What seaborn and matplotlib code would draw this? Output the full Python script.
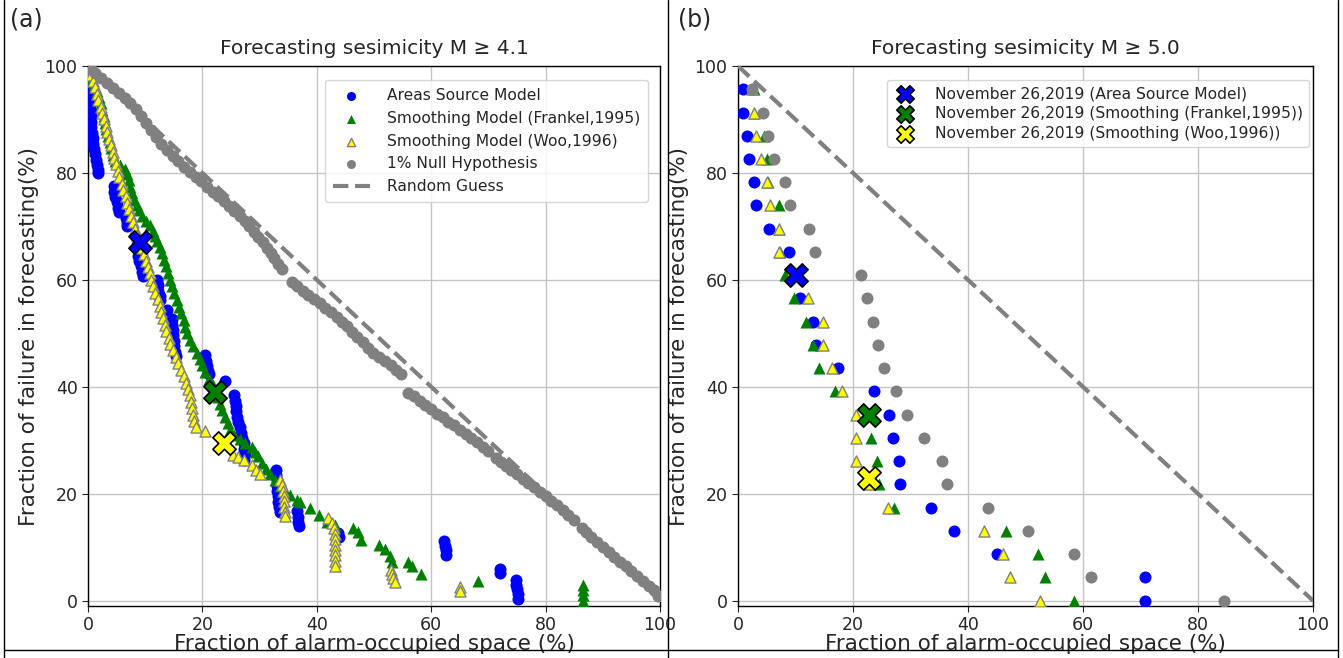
import matplotlib
matplotlib.use("Agg")
import matplotlib.pyplot as plt
from matplotlib.lines import Line2D
import seaborn as sns
import pandas as pd

# ---------------- Panel (a) data : M >= 4.1 ----------------
area_a_x = [0.3, 0.3, 0.35, 0.4, 0.45, 0.5, 0.55, 0.6, 0.7, 0.8, 0.9, 1.0, 1.2, 1.4, 1.6, 1.7, 1.8,
            4.5, 4.6, 4.8, 5.0, 5.2, 5.5, 6.6, 6.8, 6.9,
            8.6, 8.7, 8.8, 9.0, 9.2, 9.4, 9.7,
            12.0, 12.2, 12.3, 12.5, 12.6, 13.8,
            14.6, 14.7, 14.8, 14.9, 15.0, 15.1, 15.2, 15.3,
            20.5, 20.6, 20.8, 21.0, 21.2, 24.0,
            25.6, 25.7, 25.8, 25.9, 26.0, 26.2, 26.5, 26.8, 27.0, 27.2, 27.3, 27.4, 27.3,
            32.9, 32.9, 33.0, 33.0, 33.1, 33.2, 33.3, 33.4, 33.6,
            36.6, 36.7, 36.8, 36.9, 43.7, 43.8,
            62.3, 62.4, 62.5, 62.6, 72.0, 72.0,
            74.8, 74.9, 75.0, 75.1, 75.2]
area_a_y = [95.5, 94.5, 93.5, 92.5, 91.5, 90.5, 89.5, 88.5, 87.5, 86.5, 85.5, 84.5, 83.5, 82.5, 81.5, 80.5, 80.0,
            77.5, 76.5, 75.5, 74.5, 73.5, 72.7, 71.6, 70.6, 70.0,
            66.5, 65.5, 64.5, 63.5, 62.5, 61.5, 60.7,
            60.0, 59.0, 58.0, 57.0, 56.3, 54.4,
            52.6, 51.6, 50.6, 49.6, 48.6, 47.6, 46.6, 45.7,
            45.9, 44.9, 43.9, 42.9, 42.3, 41.0,
            38.4, 37.4, 36.4, 35.4, 34.4, 33.4, 32.4, 31.4, 30.4, 29.4, 28.4, 27.4, 26.4,
            24.5, 23.5, 22.5, 21.5, 20.5, 19.5, 18.5, 17.5, 16.5,
            16.7, 15.7, 14.7, 13.9, 12.6, 11.9,
            11.2, 10.3, 9.4, 8.5, 6.0, 5.2,
            3.9, 3.0, 2.1, 1.2, 0.3]

frankel_a_x = [0.3, 0.7, 1.1, 1.5, 1.9, 2.2, 2.5, 2.8, 3.0, 3.2, 3.5, 3.8, 4.1, 4.4, 4.8, 5.6, 6.4,
               6.8, 7.1, 7.4, 7.7, 8.0, 8.5, 9.0, 9.5, 10.2, 10.8, 11.3, 11.7, 12.1, 12.6, 13.0,
               13.3, 13.6, 14.0, 14.3, 14.6, 15.0, 15.5, 15.9, 16.3, 16.7, 17.0, 17.3, 17.8, 18.4,
               19.0, 19.5, 20.0, 20.5, 21.2, 21.8, 22.4, 22.8, 23.1, 23.5, 24.0, 24.4, 24.8, 25.6,
               26.6, 27.5, 28.6, 29.2, 29.8, 30.5, 31.2, 31.8, 32.7, 33.6, 34.5, 35.3, 36.5, 37.1,
               38.8, 40.3, 41.7, 43.2, 46.4, 47.2, 47.8, 50.8, 51.9, 52.8, 53.1, 56.0, 56.6, 58.3,
               68.2, 86.6, 86.6, 86.6, 86.6]
frankel_a_y = [99.0, 97.8, 96.6, 95.4, 94.2, 93.0, 91.8, 90.6, 89.4, 88.2, 87.0, 85.8, 84.6, 83.4, 82.2, 81.5, 80.8,
               79.8, 78.6, 77.4, 76.2, 75.0, 74.0, 73.0, 72.0, 71.0, 70.2, 69.2, 68.2, 67.2, 66.2, 65.0,
               63.8, 62.6, 61.3, 60.0, 58.8, 57.6, 56.3, 55.0, 53.8, 52.5, 51.2, 50.0, 48.8, 47.6,
               46.4, 45.2, 44.0, 42.8, 41.5, 40.3, 39.1, 38.0, 36.8, 35.6, 34.4, 33.2, 32.0, 31.0,
               30.2, 29.4, 28.8, 27.8, 27.0, 25.8, 24.6, 23.6, 22.5, 21.4, 20.6, 19.8, 18.9, 18.4,
               17.3, 16.1, 14.8, 14.2, 13.6, 12.8, 11.4, 10.5, 9.6, 8.4, 7.3, 7.3, 6.4, 4.9,
               3.6, 3.0, 2.0, 1.0, 0.0]

woo_a_x = [0.2, 0.5, 0.8, 1.2, 1.5, 1.8, 2.2, 2.5, 2.8, 3.1, 3.4, 3.7, 4.0, 4.3, 4.6, 4.9, 5.2, 5.5,
           5.9, 6.2, 6.6, 6.9, 7.2, 7.6, 7.9, 8.3, 8.6, 9.0, 9.4, 9.8, 10.2, 10.5, 10.8, 11.1, 11.4,
           11.8, 12.2, 12.5, 12.8, 13.1, 13.4, 13.7, 14.1, 14.4, 14.8, 15.3, 15.8, 16.2, 16.7, 17.1,
           17.5, 17.8, 18.0, 18.2, 18.4, 18.6, 18.8, 20.5,
           25.4, 26.2, 27.2, 28.6, 29.4, 30.1, 33.6, 34.0, 34.1, 34.2, 34.3, 34.3, 34.4, 34.4,
           42.0, 42.6, 43.0, 43.2, 43.2, 43.2, 43.2, 43.2, 43.2, 43.2,
           53.0, 53.2, 53.4, 53.6, 65.0, 65.0]
woo_a_y = [99.6, 98.4, 97.2, 96.0, 94.8, 93.6, 92.4, 91.2, 90.0, 88.8, 87.6, 86.4, 85.2, 84.0, 82.8, 81.6, 80.4, 79.2,
           78.0, 76.8, 75.6, 74.4, 73.2, 72.0, 70.8, 69.6, 68.4, 67.2, 66.0, 64.8, 63.6, 62.4, 61.2, 60.0, 58.8,
           57.6, 56.4, 55.2, 54.0, 52.8, 51.6, 50.4, 49.2, 48.0, 46.8, 45.6, 44.4, 43.2, 42.0, 40.8,
           39.6, 38.4, 37.2, 36.0, 34.8, 33.6, 32.4, 31.8,
           27.3, 26.9, 26.4, 25.4, 24.5, 23.6, 22.6, 21.6, 20.6, 19.6, 18.6, 17.6, 16.6, 15.8,
           15.5, 14.5, 13.5, 12.5, 11.5, 10.5, 9.5, 8.5, 7.5, 6.5,
           5.8, 5.0, 4.2, 3.4, 2.6, 1.8]

null_a_x = [0.5, 1.2, 2.2, 3.3, 4.3, 5.4, 6.4, 7.4, 8.4, 9.3, 10.2, 11.0, 11.9, 12.8, 13.8, 14.8, 15.8,
            16.8, 17.8, 18.8, 19.8, 20.8, 21.8, 22.8, 23.8, 24.7, 25.6, 26.5, 27.4, 28.2, 29.0, 29.8,
            30.6, 31.3, 32.0, 32.6, 33.2, 33.9, 35.6, 36.5, 37.5, 38.5, 39.5, 40.5, 41.5, 42.5, 43.5,
            44.4, 45.3, 46.2, 47.1, 48.0, 48.9, 49.9, 50.9, 51.9, 52.9, 53.9, 54.8, 56.0, 57.0, 58.0,
            59.0, 60.0, 61.0, 62.0, 63.0, 64.0, 65.0, 66.0, 67.0, 68.0, 69.0, 70.0, 71.4, 72.2, 73.0,
            74.0, 75.0, 76.0, 77.0, 78.0, 79.0, 80.0, 81.0, 82.0, 83.0, 84.0, 85.0, 86.4, 87.0, 88.0,
            89.0, 90.0, 91.0, 92.0, 93.0, 94.0, 95.0, 96.0, 97.0, 98.0, 99.0, 99.7]
null_a_y = [99.5, 98.6, 97.8, 96.8, 95.9, 94.9, 94.0, 93.0, 91.9, 90.6, 89.3, 88.0, 86.7, 85.5, 84.3, 83.2, 82.2,
            81.2, 80.2, 79.3, 78.4, 77.4, 76.5, 75.6, 74.7, 73.8, 72.9, 72.0, 71.0, 70.0, 69.0, 68.0,
            67.0, 66.0, 65.0, 64.0, 63.0, 62.0, 59.6, 58.8, 58.0, 57.2, 56.4, 55.6, 54.8, 54.0, 53.1,
            52.2, 51.3, 50.3, 49.3, 48.3, 47.3, 46.4, 45.6, 44.8, 44.0, 43.2, 42.3, 38.9, 38.2, 37.4,
            36.6, 35.8, 35.0, 34.3, 33.5, 32.8, 32.0, 31.2, 30.4, 29.6, 28.7, 27.9, 26.6, 25.9, 25.2,
            24.5, 23.6, 22.8, 22.0, 21.2, 20.4, 19.6, 18.7, 17.8, 16.9, 16.0, 15.0, 13.6, 12.9, 11.9,
            11.0, 10.0, 9.1, 8.2, 7.3, 6.4, 5.5, 4.6, 3.7, 2.8, 1.9, 0.9]

event_a_x = [9.1, 22.2, 23.7]
event_a_y = [67.0, 39.1, 29.5]

# ---------------- Panel (b) data : M >= 5.0 ----------------
levels_b = [95.65, 91.30, 86.96, 82.61, 78.26, 73.91, 69.57, 65.22, 60.87, 56.52, 52.17, 47.83,
            43.48, 39.13, 34.78, 30.43, 26.09, 21.74, 17.39, 13.04, 8.70, 4.35, 0.0]
area_b_x = [0.9, 0.9, 1.6, 1.9, 2.7, 3.1, 5.4, 8.9, 10.1, 10.8, 13.0, 13.6,
            17.4, 23.7, 26.3, 27.0, 28.0, 28.2, 33.6, 37.6, 45.0, 70.8, 70.8]
frankel_b_x = [2.7, 2.7, 4.6, 5.1, 5.2, 7.1, 7.2, 7.3, 8.2, 9.7, 11.9, 13.0,
               14.1, 16.9, 22.8, 23.2, 24.1, 24.5, 27.1, 46.6, 52.2, 53.4, 58.5]
woo_b_x = [2.4, 2.7, 3.1, 4.0, 5.1, 5.5, 7.2, 7.2, 10.8, 12.2, 14.7, 14.7,
           16.4, 18.1, 20.5, 20.5, 20.5, 22.8, 26.0, 42.7, 46.1, 47.3, 52.5]
null_b_x = [2.4, 4.4, 5.3, 6.3, 8.1, 9.0, 12.3, 13.4, 21.4, 22.4, 23.4, 24.4,
            25.4, 27.4, 29.4, 32.4, 35.4, 36.4, 43.4, 50.4, 58.4, 61.4, 84.6]
event_b_x = [10.1, 22.8, 22.8]
event_b_y = [60.87, 34.78, 23.0]

guess_x = [0, 100]
guess_y = [100, 0]

ticks = [0, 20, 40, 60, 80, 100]
event_labels_b = ["November 26,2019 (Area Source Model)",
                  "November 26,2019 (Smoothing (Frankel,1995))",
                  "November 26,2019 (Smoothing (Woo,1996))"]
event_colors = ["blue", "green", "yellow"]

# ---------------- Plot ----------------
sns.set_style("ticks")
plt.rcParams['font.family'] = ['DejaVu Sans']

fig = plt.figure(figsize=(13.43, 6.58), dpi=100)
axa = fig.add_axes([88 / 1343, 1 - 606 / 658, 572 / 1343, 540 / 658])
axb = fig.add_axes([738 / 1343, 1 - 606 / 658, 575 / 1343, 540 / 658])

S = 75

# Panel (a)
sns.scatterplot(x=area_a_x, y=area_a_y, ax=axa, color="blue", marker="o", s=S,
                linewidth=0, label="Areas Source Model", zorder=3)
sns.scatterplot(x=frankel_a_x, y=frankel_a_y, ax=axa, color="green", marker="^", s=S,
                linewidth=0, label="Smoothing Model (Frankel,1995)", zorder=3)
sns.scatterplot(x=woo_a_x, y=woo_a_y, ax=axa, color="yellow", marker="^", s=S * 0.85,
                edgecolor="gray", linewidth=1, label="Smoothing Model (Woo,1996)", zorder=3)
sns.scatterplot(x=null_a_x, y=null_a_y, ax=axa, color="gray", marker="o", s=S,
                linewidth=0, label="1% Null Hypothesis", zorder=3)
sns.lineplot(x=guess_x, y=guess_y, ax=axa, color="gray", linestyle="--", linewidth=3,
             label="Random Guess", zorder=3)
for ex, ey, c in zip(event_a_x, event_a_y, event_colors):
    sns.scatterplot(x=[ex], y=[ey], ax=axa, color=c, marker="X", s=280,
                    edgecolor="black", linewidth=1.2, zorder=5)

# Panel (b)
sns.scatterplot(x=area_b_x, y=levels_b, ax=axb, color="blue", marker="o", s=S,
                linewidth=0, zorder=3)
sns.scatterplot(x=frankel_b_x, y=levels_b, ax=axb, color="green", marker="^", s=S,
                linewidth=0, zorder=3)
sns.scatterplot(x=woo_b_x, y=levels_b, ax=axb, color="yellow", marker="^", s=S * 0.85,
                edgecolor="gray", linewidth=1, zorder=3)
sns.scatterplot(x=null_b_x, y=levels_b, ax=axb, color="gray", marker="o", s=S,
                linewidth=0, zorder=3)
sns.lineplot(x=guess_x, y=guess_y, ax=axb, color="gray", linestyle="--", linewidth=3, zorder=3)
for ex, ey, c, lab in zip(event_b_x, event_b_y, event_colors, event_labels_b):
    sns.scatterplot(x=[ex], y=[ey], ax=axb, color=c, marker="X", s=280,
                    edgecolor="black", linewidth=1.2, label=lab, zorder=5)

for ax, title in [(axa, "Forecasting sesimicity M \u2265 4.1"),
                  (axb, "Forecasting sesimicity M \u2265 5.0")]:
    ax.set_xlim(0, 100)
    ax.set_ylim(-1, 100)
    ax.set_xticks(ticks)
    ax.set_yticks(ticks)
    ax.tick_params(labelsize=12.5, length=4)
    ax.grid(True, color="#c4c4c4", linewidth=1)
    ax.set_axisbelow(True)
    ax.set_title(title, fontsize=14.5, pad=9)
    ax.set_xlabel("Fraction of alarm-occupied space (%)", fontsize=15.5, labelpad=0)
    ax.set_ylabel("Fraction of failure in forecasting(%)", fontsize=15.5, labelpad=4)
    for sp in ax.spines.values():
        sp.set_visible(True)
        sp.set_color("black")
        sp.set_linewidth(1)

# legends
h, l = axa.get_legend_handles_labels()
order = ["Areas Source Model", "Smoothing Model (Frankel,1995)", "Smoothing Model (Woo,1996)",
         "1% Null Hypothesis", "Random Guess"]
hl = dict(zip(l, h))
axa.legend([hl[k] for k in order], order, loc="upper right", bbox_to_anchor=(0.993, 0.988),
           fontsize=11.2, frameon=True, handlelength=2.4, handletextpad=1.1, markerscale=0.75,
           borderpad=0.5, labelspacing=0.5)
axb.legend(loc="upper left", bbox_to_anchor=(0.245, 0.988), fontsize=11.2, frameon=True,
           handlelength=1.6, handletextpad=1.1, markerscale=0.75, borderpad=0.4, labelspacing=0.3)

fig.text(10 / 1343, 1 - 20 / 658, "(a)", fontsize=17, va="center", ha="left")
fig.text(678 / 1343, 1 - 20 / 658, "(b)", fontsize=17, va="center", ha="left")

# panel frames
for xs, ys in [([4 / 1343, 4 / 1343], [0, 1]),
               ([668 / 1343, 668 / 1343], [0, 1]),
               ([1338 / 1343, 1338 / 1343], [0, 1]),
               ([4 / 1343, 1338 / 1343], [1 - 650 / 658, 1 - 650 / 658])]:
    fig.add_artist(Line2D(xs, ys, color="black", linewidth=1))

fig.savefig("out.png", dpi=100)
